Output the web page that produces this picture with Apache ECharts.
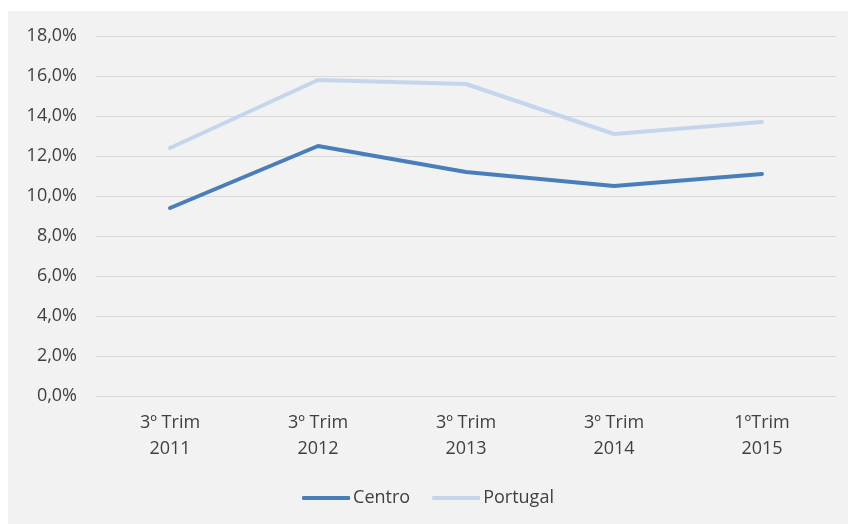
<!DOCTYPE html>
<html>
<head>
<meta charset="utf-8">
<script src="https://cdn.jsdelivr.net/npm/echarts@6/dist/echarts.min.js"></script>
<style>
  body { margin: 0; background: #fff; }
  #chart { position: absolute; left: 8px; top: 11px; width: 840px; height: 513px; background: #f2f2f2; }
</style>
</head>
<body>
<div id="chart"></div>
<script>
const categories = ["3º Trim\n2011", "3º Trim\n2012", "3º Trim\n2013", "3º Trim\n2014", "1ºTrim\n2015"];
const centro = [9.4, 12.5, 11.2, 10.5, 11.1];
const portugal = [12.4, 15.8, 15.6, 13.1, 13.7];

const chart = echarts.init(document.getElementById("chart"));
const font = "'Open Sans', 'Noto Sans', sans-serif";
chart.setOption({
  animation: false,
  textStyle: { fontFamily: font },
  color: ["#4a7ebb", "#c5d6ec"],
  grid: { left: 88, right: 12, top: 25, bottom: 128 },
  legend: {
    bottom: 12,
    left: "center",
    itemWidth: 48,
    itemHeight: 4,
    itemGap: 22,
    icon: "roundRect",
    textStyle: { color: "#404040", fontSize: 18, fontFamily: font, padding: [0, 0, 0, -2] },
    data: ["Centro", "Portugal"],
  },
  xAxis: {
    type: "category",
    data: categories,
    axisTick: { show: false },
    axisLine: { lineStyle: { color: "#d9d9d9", width: 1 } },
    axisLabel: { color: "#404040", fontSize: 18, lineHeight: 26, margin: 14 },
  },
  yAxis: {
    type: "value",
    min: 0,
    max: 18,
    interval: 2,
    axisLine: { show: false },
    axisTick: { show: false },
    axisLabel: {
      color: "#404040",
      fontSize: 18,
      margin: 19,
      formatter: (v) => v.toFixed(1).replace(".", ",") + "%",
    },
    splitLine: { lineStyle: { color: "#d9d9d9", width: 1 } },
  },
  series: [
    { name: "Centro", type: "line", data: centro, symbol: "none", lineStyle: { width: 4, cap: "round" } },
    { name: "Portugal", type: "line", data: portugal, symbol: "none", lineStyle: { width: 4, cap: "round" } },
  ],
});
</script>
</body>
</html>
